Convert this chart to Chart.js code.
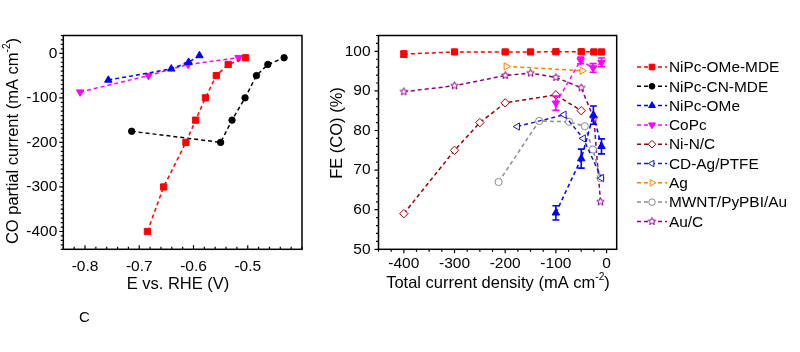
<!DOCTYPE html>
<html>
<head>
<meta charset="utf-8">
<script src="https://cdn.jsdelivr.net/npm/chart.js@4.4.0/dist/chart.umd.min.js"></script>
<style>
  body { margin:0; background:#fff; width:800px; height:352px; overflow:hidden; position:relative; font-family:"Liberation Sans", Arial, sans-serif; }
  #c1 { position:absolute; left:0; top:0; }
  #c2 { position:absolute; left:300px; top:0; }
  #lab { position:absolute; left:79px; top:308px; font-size:15px; color:#000; }
</style>
</head>
<body>
<canvas id="c1" width="310" height="352"></canvas>
<canvas id="c2" width="500" height="352"></canvas>
<div id="lab">C</div>
<script>
// ---- left panel: CO partial current vs potential ----
const eOMeMDE = [-0.685, -0.655, -0.614, -0.596, -0.578, -0.558, -0.536, -0.504];
const jOMeMDE = [-400, -300, -200, -150, -100, -50, -25, -10];
const eCNMDE  = [-0.714, -0.55, -0.529, -0.505, -0.484, -0.463, -0.433];
const jCNMDE  = [-175, -200, -150, -100, -50, -25, -10];
const eOMe    = [-0.757, -0.641, -0.609, -0.589];
const jOMe    = [-60, -35, -20, -5];
const eCoPc   = [-0.809, -0.683, -0.61, -0.517];
const jCoPc   = [-87, -50, -25, -10];

const leftXTicks = [-0.8, -0.7, -0.6, -0.5];
const leftYTicks = [-400, -300, -200, -100, 0];

// ---- right panel: FE(CO) vs total current density ----
const jtOMeMDE  = [-400, -300, -200, -150, -100, -50, -25, -10];
const feOMeMDE  = [99.3, 99.85, 99.85, 99.85, 99.9, 99.9, 99.85, 99.85];
const errOMeMDE = [0.8, 0.3, 0.3, 0.3, 0.3, 0.4, 0.3, 0.3];
const jtOMe     = [-100, -50, -26, -10];
const feOMe     = [59.2, 72.9, 83.9, 76];
const errOMe    = [1.8, 2.4, 2.3, 1.9];
const jtCoPc    = [-100, -51, -26.5, -10];
const feCoPc    = [86.9, 97.7, 95.8, 97.2];
const errCoPc   = [1.8, 0.85, 1.1, 1.1];
const jtNiNC    = [-400, -300, -250, -200, -100, -50];
const feNiNC    = [59, 75, 82, 87, 89, 85];
const jtCDAg    = [-176, -84, -46, -10];
const feCDAg    = [81, 84, 78, 68];
const jtAg      = [-198, -48];
const feAg      = [96.2, 95.1];
const jtMWNT    = [-213, -133, -74, -43, -27, -12];
const feMWNT    = [67, 82.4, 82.2, 81.1, 75.2, 68];
const jtAuC     = [-400, -300, -200, -150, -100, -50, -25, -12];
const feAuC     = [89.8, 91.3, 93.9, 94.5, 93.4, 90.8, 83, 62];

const rightXTicks = [-400, -300, -200, -100, 0];
const rightYTicks = [50, 60, 70, 80, 90, 100];

const FONT = '"Liberation Sans", Arial, sans-serif';

function starImg(color, r) {
  const c = document.createElement('canvas');
  const s = Math.ceil(r * 2 + 3);
  c.width = c.height = s;
  const g = c.getContext('2d');
  g.beginPath();
  for (let i = 0; i < 10; i++) {
    const rr = i % 2 ? r * 0.45 : r;
    const a = -Math.PI / 2 + i * Math.PI / 5;
    g.lineTo(s / 2 + rr * Math.cos(a), s / 2 + rr * Math.sin(a));
  }
  g.closePath();
  g.fillStyle = '#fff'; g.fill();
  g.strokeStyle = color; g.lineWidth = 1; g.stroke();
  return c;
}

// marker / line styles per material
const styles = {
  'NiPc-OMe-MDE': { color: '#ff0000', fill: '#ff0000', pointStyle: 'rect', radius: 4.4, rotation: 0 },
  'NiPc-CN-MDE':  { color: '#000000', fill: '#000000', pointStyle: 'circle', radius: 3.2, rotation: 0 },
  'NiPc-OMe':     { color: '#0000ff', fill: '#0000ff', pointStyle: 'triangle', radius: 4.3, rotation: 0 },
  'CoPc':         { color: '#ff00ff', fill: '#ff00ff', pointStyle: 'triangle', radius: 4.3, rotation: 180 },
  'Ni-N/C':       { color: '#990000', fill: '#ffffff', pointStyle: 'rectRot', radius: 4.2, rotation: 0 },
  'CD-Ag/PTFE':   { color: '#1a1acc', fill: '#ffffff', pointStyle: 'triangle', radius: 4.2, rotation: -90 },
  'Ag':           { color: '#ff8000', fill: '#ffffff', pointStyle: 'triangle', radius: 4.2, rotation: 90 },
  'MWNT/PyPBI/Au':{ color: '#8c8c8c', fill: '#ffffff', pointStyle: 'circle', radius: 3.6, rotation: 0 },
  'Au/C':         { color: '#8b008b', fill: '#ffffff', pointStyle: starImg('#8b008b', 4), radius: 4, rotation: 0 }
};
const legendNames = ['NiPc-OMe-MDE', 'NiPc-CN-MDE', 'NiPc-OMe', 'CoPc', 'Ni-N/C', 'CD-Ag/PTFE', 'Ag', 'MWNT/PyPBI/Au', 'Au/C'];

function series(name, xs, ys, errs) {
  const s = styles[name];
  return {
    label: name,
    data: xs.map((x, i) => ({ x: x, y: ys[i] })),
    errors: errs || null,
    borderColor: s.color,
    backgroundColor: s.fill,
    borderWidth: 1.5,
    borderDash: [4, 3],
    pointStyle: s.pointStyle,
    pointRadius: s.radius,
    pointRotation: s.rotation,
    pointBorderColor: s.color,
    pointBackgroundColor: s.fill,
    pointBorderWidth: 1,
    pointHoverRadius: s.radius,
    showLine: true,
    tension: 0,
    clip: false
  };
}

// draw text with a superscript part: parts = [[text, sup?], ...]
function drawRich(ctx, parts, cx, cy, size, rot) {
  ctx.save();
  ctx.translate(cx, cy);
  if (rot) ctx.rotate(rot);
  ctx.fillStyle = '#000';
  ctx.textBaseline = 'middle';
  ctx.textAlign = 'left';
  let w = 0;
  parts.forEach(p => {
    ctx.font = (p[1] ? size * 0.62 : size) + 'px ' + FONT;
    w += ctx.measureText(p[0]).width;
  });
  let x = -w / 2;
  parts.forEach(p => {
    ctx.font = (p[1] ? size * 0.62 : size) + 'px ' + FONT;
    ctx.fillText(p[0], x, p[1] ? -size * 0.38 : 0);
    x += ctx.measureText(p[0]).width;
  });
  ctx.restore();
}

function range(a, b, step) {
  const out = [];
  for (let v = a; v <= b + 1e-9; v += step) out.push(+v.toFixed(4));
  return out;
}

// frame, ticks, axis titles, error bars, legend
const decor = {
  id: 'decor',
  afterDatasetsDraw(chart, args, o) {
    const ctx = chart.ctx;
    const xs = chart.scales.x, ys = chart.scales.y;
    // error bars
    chart.data.datasets.forEach(ds => {
      if (!ds.errors) return;
      ctx.save();
      ctx.strokeStyle = ds.borderColor;
      ctx.lineWidth = 1.6;
      ds.data.forEach((p, i) => {
        const px = xs.getPixelForValue(p.x);
        const y1 = ys.getPixelForValue(p.y + ds.errors[i]);
        const y2 = ys.getPixelForValue(p.y - ds.errors[i]);
        ctx.beginPath();
        ctx.moveTo(px, y1); ctx.lineTo(px, y2);
        ctx.moveTo(px - 3.5, y1); ctx.lineTo(px + 3.5, y1);
        ctx.moveTo(px - 3.5, y2); ctx.lineTo(px + 3.5, y2);
        ctx.stroke();
      });
      ctx.restore();
    });
  },
  afterDraw(chart, args, o) {
    const ctx = chart.ctx;
    const a = chart.chartArea;
    const xs = chart.scales.x, ys = chart.scales.y;
    ctx.save();
    ctx.strokeStyle = '#000';
    ctx.lineWidth = 1.5;
    ctx.strokeRect(a.left, a.top, a.right - a.left, a.bottom - a.top);
    ctx.lineWidth = 1.2;
    ctx.beginPath();
    const xdir = o.xInward ? -1 : 1;
    o.xMinor.forEach(v => {
      const px = xs.getPixelForValue(v);
      const len = o.xMajor.includes(v) ? 4 : 2.5;
      ctx.moveTo(px, a.bottom); ctx.lineTo(px, a.bottom + xdir * len);
    });
    o.yMinor.forEach(v => {
      const py = ys.getPixelForValue(v);
      const len = o.yMajor.includes(v) ? 4 : 2.5;
      ctx.moveTo(a.left, py); ctx.lineTo(a.left - len, py);
    });
    ctx.stroke();
    ctx.restore();
    drawRich(ctx, o.xTitle, o.xTitlePos[0], o.xTitlePos[1], 16.5, 0);
    drawRich(ctx, o.yTitle, o.yTitlePos[0], o.yTitlePos[1], 16.5, -Math.PI / 2);

    if (o.legend) {
      const H = Chart.helpers;
      legendNames.forEach((name, i) => {
        const s = styles[name];
        const y = o.legend.y0 + i * o.legend.dy;
        const x0 = o.legend.x0;
        ctx.save();
        ctx.strokeStyle = s.color;
        ctx.lineWidth = 1.5;
        ctx.setLineDash([4, 3]);
        ctx.beginPath(); ctx.moveTo(x0, y); ctx.lineTo(x0 + 30, y); ctx.stroke();
        ctx.setLineDash([]);
        ctx.fillStyle = s.fill;
        ctx.lineWidth = 1;
        H.drawPoint(ctx, { pointStyle: s.pointStyle, radius: s.radius * 0.9, rotation: s.rotation, borderWidth: 1 }, x0 + 15, y);
        ctx.fillStyle = '#000';
        ctx.font = '15.4px ' + FONT;
        ctx.textBaseline = 'middle';
        ctx.textAlign = 'left';
        ctx.fillText(name, x0 + 32, y + 1);
        ctx.restore();
      });
    }
  }
};

function fixedTicks(list) {
  return s => { s.ticks = list.map(v => ({ value: v })); };
}

const tickFont = { size: 15.5, family: FONT };

new Chart(document.getElementById('c1'), {
  type: 'scatter',
  data: {
    datasets: [
      series('NiPc-OMe-MDE', eOMeMDE, jOMeMDE),
      series('NiPc-CN-MDE', eCNMDE, jCNMDE),
      series('NiPc-OMe', eOMe, jOMe),
      series('CoPc', eCoPc, jCoPc)
    ]
  },
  options: {
    responsive: false,
    animation: false,
    layout: { padding: { top: 35.5, right: 8, left: 0, bottom: 0 } },
    plugins: {
      legend: { display: false },
      tooltip: { enabled: false },
      decor: {
        xMajor: leftXTicks, xMinor: range(-0.84, -0.4, 0.02), xInward: true,
        yMajor: leftYTicks, yMinor: range(-440, 40, 10),
        xTitle: [['E vs. RHE (V)', false]], xTitlePos: [178, 284],
        yTitle: [['CO partial current (mA cm', false], ['-2', true], [')', false]], yTitlePos: [13, 141]
      }
    },
    scales: {
      x: {
        type: 'linear', min: -0.84, max: -0.4,
        afterBuildTicks: fixedTicks(leftXTicks),
        afterFit: s => { s.height = 352 - 249.3; },
        grid: { display: false, drawTicks: false },
        border: { display: false },
        ticks: { padding: 8, color: '#000', font: tickFont, callback: v => v.toFixed(1) }
      },
      y: {
        type: 'linear', min: -440, max: 40,
        afterBuildTicks: fixedTicks(leftYTicks),
        afterFit: s => { s.width = 63.3; },
        grid: { display: false, drawTicks: false },
        border: { display: false },
        ticks: { padding: 6, color: '#000', font: tickFont, callback: v => String(v) }
      }
    }
  },
  plugins: [decor]
});

new Chart(document.getElementById('c2'), {
  type: 'scatter',
  data: {
    datasets: [
      series('NiPc-OMe-MDE', jtOMeMDE, feOMeMDE, errOMeMDE),
      series('NiPc-OMe', jtOMe, feOMe, errOMe),
      series('CoPc', jtCoPc, feCoPc, errCoPc),
      series('Ni-N/C', jtNiNC, feNiNC),
      series('CD-Ag/PTFE', jtCDAg, feCDAg),
      series('Ag', jtAg, feAg),
      series('MWNT/PyPBI/Au', jtMWNT, feMWNT),
      series('Au/C', jtAuC, feAuC)
    ]
  },
  options: {
    responsive: false,
    animation: false,
    layout: { padding: { top: 35.5, right: 500 - 316.7, left: 0, bottom: 0 } },
    plugins: {
      legend: { display: false },
      tooltip: { enabled: false },
      decor: {
        xMajor: rightXTicks, xMinor: range(-450, 0, 25), xInward: false,
        yMajor: rightYTicks, yMinor: range(50, 104, 2),
        xTitle: [['Total current density (mA cm', false], ['-2', true], [')', false]], xTitlePos: [198, 283],
        yTitle: [['FE (CO) (%)', false]], yTitlePos: [37, 133],
        legend: { x0: 337, y0: 67, dy: 19.3 }
      }
    },
    scales: {
      x: {
        type: 'linear', min: -450, max: 20,
        afterBuildTicks: fixedTicks(rightXTicks),
        afterFit: s => { s.height = 352 - 249.3; },
        grid: { display: false, drawTicks: false },
        border: { display: false },
        ticks: { padding: 5, color: '#000', font: tickFont, callback: v => String(v) }
      },
      y: {
        type: 'linear', min: 50, max: 104,
        afterBuildTicks: fixedTicks(rightYTicks),
        afterFit: s => { s.width = 78.5; },
        grid: { display: false, drawTicks: false },
        border: { display: false },
        ticks: { padding: 8, color: '#000', font: tickFont, callback: v => String(v) }
      }
    }
  },
  plugins: [decor]
});
</script>
</body>
</html>
